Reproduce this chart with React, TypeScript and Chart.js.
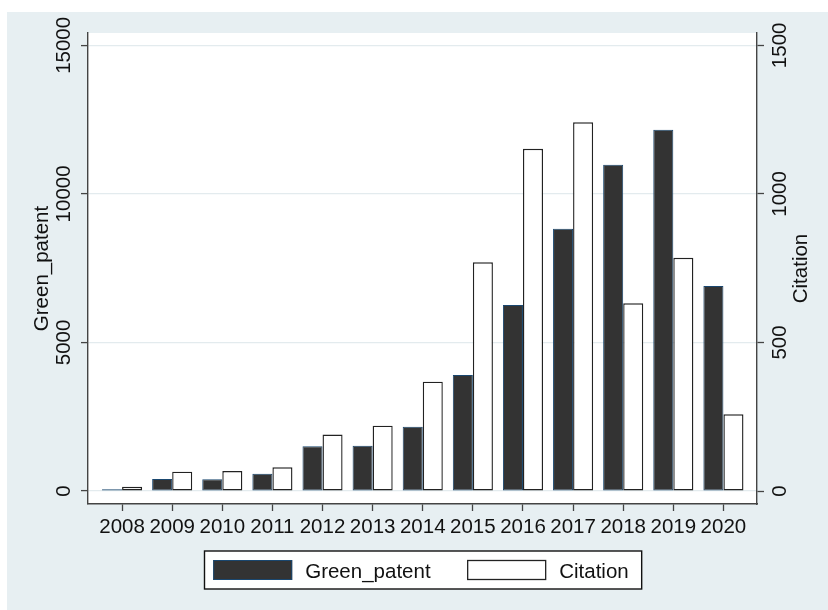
import React, { useEffect, useRef } from "react";
import { Chart, registerables } from "chart.js";

Chart.register(...registerables);

const years = [2008, 2009, 2010, 2011, 2012, 2013, 2014, 2015, 2016, 2017, 2018, 2019, 2020];
const greenPatent = [60, 404, 393, 583, 1504, 1526, 2165, 3904, 6260, 8829, 10983, 12161, 6900];
const citation = [14, 65, 67, 80, 190, 220, 368, 770, 1152, 1241, 632, 785, 258];
const leftTicks = [0, 5000, 10000, 15000];
const rightTicks = [0, 500, 1000, 1500];
const seriesNames = ["Green_patent", "Citation"];
const leftTitle = "Green_patent";
const rightTitle = "Citation";

const FONT = '"Liberation Sans", Arial, Helvetica, sans-serif';
const FS = 20.5;
const BG = "#e7eff2";
const GRID = "#e3ebee";
const AXIS = "#444444";
const TEXT = "#111111";
const DARK = "#333333";
const NAVY = "#1a476f";
const OUTLINE = "#222222";

const decor = {
  id: "stataDecor",
  beforeDraw(chart: any) {
    const { ctx, chartArea: a } = chart;
    ctx.save();
    ctx.fillStyle = BG;
    ctx.fillRect(7, 12, chart.width - 7, chart.height - 12);
    ctx.fillStyle = "#ffffff";
    ctx.fillRect(a.left, a.top, a.right - a.left, a.bottom - a.top);
    ctx.restore();
  },
  afterDraw(chart: any) {
    const { ctx, chartArea: a } = chart;
    const yL = chart.scales.y;
    const yR = chart.scales.y1;
    const font = `${FS}px ${FONT}`;
    const rot = (text: string, x: number, y: number) => {
      ctx.save();
      ctx.translate(x, y);
      ctx.rotate(-Math.PI / 2);
      ctx.textAlign = "center";
      ctx.textBaseline = "middle";
      ctx.fillText(text, 0, 0);
      ctx.restore();
    };
    ctx.save();
    ctx.font = font;
    ctx.fillStyle = TEXT;
    yL.ticks.forEach((t: any) => rot(String(t.value), a.left - 23.5, yL.getPixelForValue(t.value)));
    yR.ticks.forEach((t: any) => rot(String(t.value), a.right + 23, yR.getPixelForValue(t.value)));
    const cy = (a.top + a.bottom) / 2;
    rot(leftTitle, a.left - 46, cy);
    rot(rightTitle, a.right + 44, cy);

    // legend
    const w1 = ctx.measureText(seriesNames[0]).width;
    const w2 = ctx.measureText(seriesNames[1]).width;
    const padL = 8.7, sw = 79, gap = 13, mid = 36.6, padR = 13;
    const total = padL + sw + gap + w1 + mid + sw + gap + w2 + padR;
    const cx = (a.left + a.right) / 2;
    const fx = Math.round(cx - total / 2) + 0.5;
    const fy = 551;
    const fh = 38;
    ctx.fillStyle = "#ffffff";
    ctx.fillRect(fx, fy, total, fh);
    ctx.lineWidth = 1.4;
    ctx.strokeStyle = "#111111";
    ctx.strokeRect(fx, fy, total, fh);
    let x = fx + padL;
    const sy = 560, sh = 20;
    ctx.fillStyle = DARK;
    ctx.fillRect(x, sy, sw, sh);
    ctx.lineWidth = 1;
    ctx.strokeStyle = NAVY;
    ctx.strokeRect(x + 0.5, sy + 0.5, sw - 1, sh - 1);
    x += sw + gap;
    ctx.fillStyle = TEXT;
    ctx.textAlign = "left";
    ctx.textBaseline = "alphabetic";
    ctx.fillText(seriesNames[0], x, 578);
    x += w1 + mid;
    ctx.fillStyle = "#ffffff";
    ctx.fillRect(x, sy, sw, sh);
    ctx.lineWidth = 1.3;
    ctx.strokeStyle = OUTLINE;
    ctx.strokeRect(x + 0.5, sy + 0.5, sw - 1, sh - 1);
    x += sw + gap;
    ctx.fillStyle = TEXT;
    ctx.fillText(seriesNames[1], x, 578);
    ctx.restore();
  },
};

export default function App() {
  const ref = useRef<HTMLCanvasElement | null>(null);
  useEffect(() => {
    if (!ref.current) return;
    const chart = new Chart(ref.current, {
      type: "bar",
      data: {
        datasets: [
          {
            label: seriesNames[0],
            data: years.map((yr, i) => ({ x: yr, y: greenPatent[i] })),
            backgroundColor: DARK,
            borderColor: NAVY,
            borderWidth: 1,
            borderSkipped: false,
            yAxisID: "y",
          },
          {
            label: seriesNames[1],
            data: years.map((yr, i) => ({ x: yr, y: citation[i] })),
            backgroundColor: "#ffffff",
            borderColor: OUTLINE,
            borderWidth: 1.4,
            borderSkipped: false,
            yAxisID: "y1",
          },
        ],
      },
      options: {
        responsive: false,
        animation: false,
        maintainAspectRatio: false,
        layout: { padding: { left: 0, right: 0, top: 33, bottom: 0 } },
        datasets: { bar: { barPercentage: 1, categoryPercentage: 0.8 } },
        plugins: { legend: { display: false }, tooltip: { enabled: false }, title: { display: false } },
        scales: {
          x: {
            type: "linear",
            min: 2007.32,
            max: 2020.67,
            bounds: "data",
            offset: false,
            afterBuildTicks: (s: any) => {
              s.ticks = years.map((v) => ({ value: v }));
            },
            afterFit: (s: any) => {
              s.height = 106;
            },
            ticks: {
              autoSkip: false,
              maxRotation: 0,
              minRotation: 0,
              padding: 4,
              color: TEXT,
              font: { family: FONT, size: FS },
              callback: (v: any) => String(v),
            },
            grid: { offset: false, drawOnChartArea: false, drawTicks: true, tickLength: 7, tickColor: AXIS, tickWidth: 1.3 },
            border: { display: true, color: AXIS, width: 1.4 },
          },
          y: {
            type: "linear",
            position: "left",
            min: -437,
            max: 15415,
            bounds: "data",
            afterBuildTicks: (s: any) => {
              s.ticks = leftTicks.map((v) => ({ value: v }));
            },
            afterFit: (s: any) => {
              s.width = 88;
            },
            ticks: { display: false, callback: (v: any) => String(v) },
            grid: { color: GRID, lineWidth: 1.2, drawTicks: true, tickLength: 7, tickColor: AXIS, tickWidth: 1.3 },
            border: { display: true, color: AXIS, width: 1.4 },
          },
          y1: {
            type: "linear",
            position: "right",
            min: -43.7,
            max: 1541.5,
            bounds: "data",
            afterBuildTicks: (s: any) => {
              s.ticks = rightTicks.map((v) => ({ value: v }));
            },
            afterFit: (s: any) => {
              s.width = 71;
            },
            ticks: { display: false, callback: (v: any) => String(v) },
            grid: { drawOnChartArea: false, drawTicks: true, tickLength: 7, tickColor: AXIS, tickWidth: 1.3 },
            border: { display: true, color: AXIS, width: 1.4 },
          },
        },
      },
      plugins: [decor],
    } as any);
    return () => chart.destroy();
  }, []);
  return (
    <div style={{ position: "absolute", left: 0, top: 0, width: 828, height: 610 }}>
      <canvas ref={ref} width={828} height={610} style={{ display: "block", width: 828, height: 610 }} />
    </div>
  );
}
